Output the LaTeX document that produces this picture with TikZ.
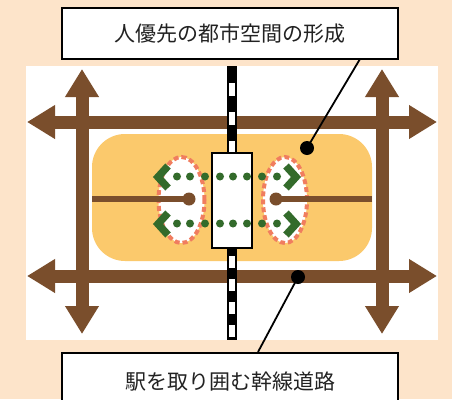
\documentclass[tikz,border=0pt]{standalone}
\usepackage{fontspec}
\newfontfamily\jpfont{Noto Sans CJK JP}
\usetikzlibrary{arrows.meta}
\definecolor{bg}{HTML}{FDE4CA}
\definecolor{yel}{HTML}{FBC96C}
\definecolor{brn}{HTML}{7A4E2C}
\definecolor{grn}{HTML}{336B2B}
\definecolor{coral}{HTML}{F07D5F}
\definecolor{txt}{HTML}{222222}
\tikzset{
  road/.style={line width=13pt, draw=brn, >={Triangle[length=28pt,width=32pt]}, <->},
  spur/.style={line width=6pt, draw=brn},
  knob/.style={circle, fill=brn, inner sep=0pt, minimum size=13pt},
  halo/.style={draw=coral, fill=white, line width=4pt, dash pattern=on 5pt off 3pt},
  chev/.style={draw=grn, line width=7.5pt, miter limit=10, line join=miter},
  gdot/.style={fill=grn},
  label/.style={draw=black, fill=white, line width=1.5pt, minimum width=336pt, font=\jpfont\fontsize{21}{25}\selectfont, text=txt},
  pin/.style={circle, fill=black, inner sep=0pt, minimum size=14pt},
  lead/.style={draw=black, line width=1.8pt},
  stationbox/.style={draw=black, fill=white, line width=1.2pt, minimum width=40pt, minimum height=95pt, inner sep=0pt}
}
\begin{document}
\begin{tikzpicture}[x=1pt,y=-1pt]
\useasboundingbox (0,0) rectangle (452,399);
\clip (0,0) rectangle (452,399);
\fill[bg] (0,0) rectangle (452,399);
\fill[white] (26,66) rectangle (438,340);
% yellow zone
\fill[yel, rounded corners=33pt] (92,134) rectangle (372,261);
% roads
\draw[road] (27,122) -- (437,122);
\draw[road] (27,276) -- (437,276);
\draw[road] (82,69) -- (82,334);
\draw[road] (382,69) -- (382,334);
% railway
\fill[black] (227,66) rectangle (237,340);
\foreach \yy in {83,112,141} \fill[white] (229.2,\yy) rectangle (234.8,\yy+13);
\foreach \yy in {256,279,302,325} \fill[white] (229.2,\yy) rectangle (234.8,\yy+12);
% halos
\draw[halo] (181.5,200) ellipse [x radius=23pt, y radius=43pt];
\draw[halo] (285,200) ellipse [x radius=22pt, y radius=43pt];
% spurs
\node[knob] (lk) at (189,199) {};
\node[knob] (rk) at (276,199) {};
\coordinate (ls) at (92,199);
\coordinate (rs) at (372,199);
\draw[spur] (ls) -- (lk.center);
\draw[spur] (rs) -- (rk.center);
% station
\node[stationbox] (stn) at (232,200.5) {};
% green dots
\foreach \xx in {177,190,205,220,233,247,262,277} {
  \fill[gdot] (\xx,176.5) circle (4pt);
  \fill[gdot] (\xx,223.5) circle (4pt);
}
% chevrons
\draw[chev] (168,166) -- (158,177) -- (168,188);
\draw[chev] (168,213) -- (158,224) -- (168,235);
\draw[chev] (286,166) -- (296,177) -- (286,188);
\draw[chev] (286,213) -- (296,224) -- (286,235);
% labels
\node[label, minimum height=51pt] (top) at (230,33.5) {人優先の都市空間の形成};
\node[label, anchor=north, inner ysep=0pt, text height=37pt, text depth=40pt] (bot) at (230,352) {駅を取り囲む幹線道路};
\node[pin] (tdot) at (307,148) {};
\node[pin] (bdot) at (298,277) {};
\coordinate (tl) at (360,59);
\coordinate (bl) at (258,352);
\draw[lead] (tl) -- (tdot.center);
\draw[lead] (bl) -- (bdot.center);
\end{tikzpicture}
\end{document}
